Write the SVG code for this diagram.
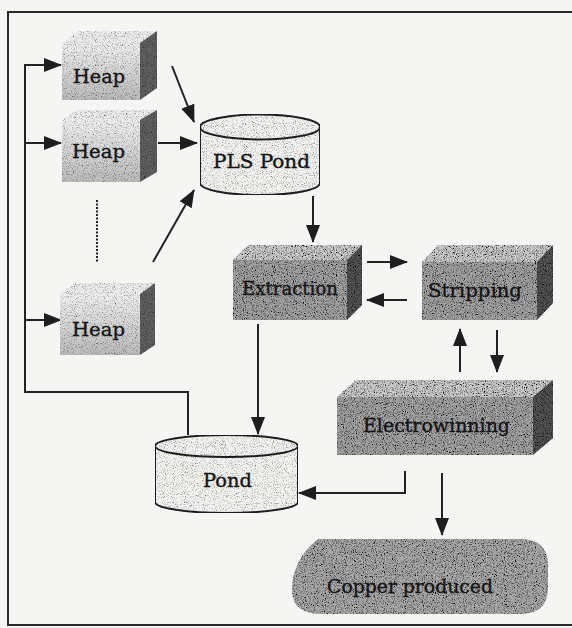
<svg xmlns="http://www.w3.org/2000/svg" width="572" height="628" viewBox="0 0 572 628">
<style>
.frame{fill:none;stroke:#2a2a2a;stroke-width:2}
.lbl{font-family:"DejaVu Serif","Liberation Serif",serif;fill:#141414;font-size:19px;stroke:#141414;stroke-width:0.35}
.conn{fill:none;stroke:#222;stroke-width:2}
.front{fill:#a6a6a6}
.side{fill:#555}
.top{fill:#cfcfcf}
.hfront{fill:url(#heapGrad)}
.hside{fill:#5e5e5e}
.htop{fill:#ececec}
.cyl{fill:#f3f3f1;stroke:#222;stroke-width:2}
</style>
<defs>
<linearGradient id="heapGrad" x1="0" y1="0" x2="0" y2="1">
<stop offset="0" stop-color="#f0f0f0"/>
<stop offset="1" stop-color="#bcbcbc"/>
</linearGradient>
<filter id="grain" x="0" y="0" width="100%" height="100%">
<feTurbulence type="fractalNoise" baseFrequency="0.9" numOctaves="2" seed="4" result="n"/>
<feColorMatrix in="n" type="matrix" values="0 0 0 0 0  0 0 0 0 0  0 0 0 0 0  3 0 0 0 -1.3" result="a"/>
<feComposite in="a" in2="SourceGraphic" operator="in" result="dots"/>
<feMerge><feMergeNode in="SourceGraphic"/><feMergeNode in="dots"/></feMerge>
</filter>
<filter id="grainLight" x="0" y="0" width="100%" height="100%">
<feTurbulence type="fractalNoise" baseFrequency="0.9" numOctaves="2" seed="7" result="n"/>
<feColorMatrix in="n" type="matrix" values="0 0 0 0 0  0 0 0 0 0  0 0 0 0 0  2.4 0 0 0 -1.2" result="a"/>
<feComposite in="a" in2="SourceGraphic" operator="in" result="dots"/>
<feMerge><feMergeNode in="SourceGraphic"/><feMergeNode in="dots"/></feMerge>
</filter>
<marker id="arr" markerUnits="userSpaceOnUse" markerWidth="18" markerHeight="14" refX="17" refY="7" orient="auto">
<path d="M0,0 L18,7 L0,14 z" fill="#1e1e1e"/>
</marker>
</defs>
<rect x="0" y="0" width="572" height="628" fill="#f5f5f3"/>
<path class="frame" d="M572,12 H8 V625 H572"/>

<g id="connectors">
<path class="conn" d="M188,435 V392 H25 V65 H61" marker-end="url(#arr)"/>
<path class="conn" d="M25,143 H61" marker-end="url(#arr)"/>
<path class="conn" d="M25,320 H61" marker-end="url(#arr)"/>
<path class="conn" d="M172,66 L194,122" marker-end="url(#arr)"/>
<path class="conn" d="M158,143 H197" marker-end="url(#arr)"/>
<path class="conn" d="M153,262 L194,190" marker-end="url(#arr)"/>
<path class="conn" d="M97,200 V262" stroke-dasharray="2,1.5" stroke-width="2.5"/>
<path class="conn" d="M313,196 V242" marker-end="url(#arr)"/>
<path class="conn" d="M367,262 H407" marker-end="url(#arr)"/>
<path class="conn" d="M407,300 H367" marker-end="url(#arr)"/>
<path class="conn" d="M460,372 V329" marker-end="url(#arr)"/>
<path class="conn" d="M497,330 V372" marker-end="url(#arr)"/>
<path class="conn" d="M258,324 V434" marker-end="url(#arr)"/>
<path class="conn" d="M405,471 V493 H299" marker-end="url(#arr)"/>
<path class="conn" d="M442,473 V535" marker-end="url(#arr)"/>
</g>

<g id="heap1">
<g filter="url(#grainLight)">
<polygon class="htop" points="62,43 79,31 157,31 140,43"/>
<rect class="hfront" x="62" y="43" width="78" height="57"/>
<polygon class="hside" points="140,43 157,31 157,88 140,100"/>
</g>
<text class="lbl" x="73" y="83" textLength="52" lengthAdjust="spacingAndGlyphs">Heap</text>
</g>

<g id="heap2">
<g filter="url(#grainLight)">
<polygon class="htop" points="62,120 77,110 157,110 140,120"/>
<rect class="hfront" x="62" y="120" width="78" height="62"/>
<polygon class="hside" points="140,120 157,110 157,172 140,182"/>
</g>
<text class="lbl" x="72" y="158" textLength="53" lengthAdjust="spacingAndGlyphs">Heap</text>
</g>

<g id="heap3">
<g filter="url(#grainLight)">
<polygon class="htop" points="60,294 75,283 155,283 140,294"/>
<rect class="hfront" x="60" y="294" width="80" height="61"/>
<polygon class="hside" points="140,294 155,283 155,345 140,355"/>
</g>
<text class="lbl" x="72" y="336" textLength="53" lengthAdjust="spacingAndGlyphs">Heap</text>
</g>

<g id="pls-pond">
<g filter="url(#grainLight)">
<path class="cyl" d="M200,127 V183 A60,12 0 0 0 320,183 V127"/>
<ellipse class="cyl" cx="260" cy="127" rx="60" ry="12.5"/>
</g>
<text class="lbl" x="213" y="168" textLength="97" lengthAdjust="spacingAndGlyphs">PLS Pond</text>
</g>

<g id="extraction">
<g filter="url(#grain)">
<polygon class="top" points="233,260 248,245 362,245 347,260"/>
<rect class="front" x="233" y="260" width="114" height="60"/>
<polygon class="side" points="347,260 362,245 362,305 347,320"/>
</g>
<text class="lbl" x="242" y="295" textLength="96" lengthAdjust="spacingAndGlyphs">Extraction</text>
</g>

<g id="stripping">
<g filter="url(#grain)">
<polygon class="top" points="422,262 438,245 553,245 537,262"/>
<rect class="front" x="422" y="262" width="115" height="58"/>
<polygon class="side" points="537,262 553,245 553,303 537,320"/>
</g>
<text class="lbl" x="428" y="297" textLength="94" lengthAdjust="spacingAndGlyphs">Stripping</text>
</g>

<g id="electrowinning">
<g filter="url(#grain)">
<polygon class="top" points="337,397 356,380 553,380 533,397"/>
<rect class="front" x="337" y="397" width="196" height="58"/>
<polygon class="side" points="533,397 553,380 553,438 533,455"/>
</g>
<text class="lbl" x="363" y="432" textLength="147" lengthAdjust="spacingAndGlyphs">Electrowinning</text>
</g>

<g id="pond">
<g filter="url(#grainLight)">
<path class="cyl" d="M155,446 V502 A71.5,11 0 0 0 298,502 V446"/>
<ellipse class="cyl" cx="226.5" cy="446" rx="71.5" ry="11"/>
</g>
<text class="lbl" x="203" y="487" textLength="49" lengthAdjust="spacingAndGlyphs">Pond</text>
</g>

<g id="copper-produced">
<path filter="url(#grain)" fill="#acacac" d="M318,539 H520 Q548,539 548,566 V588 Q548,614 520,614 H322 Q292,614 292,590 Q292,560 318,539 Z"/>
<text class="lbl" x="327" y="593" textLength="166" lengthAdjust="spacingAndGlyphs">Copper produced</text>
</g>
</svg>
